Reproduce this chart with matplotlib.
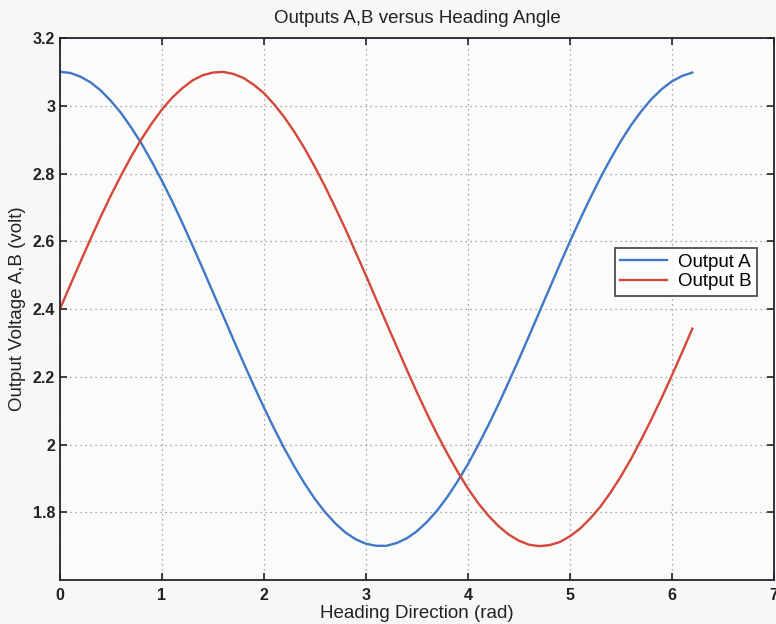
import matplotlib
matplotlib.use("Agg")
import matplotlib.pyplot as plt

plt.rcParams['font.family'] = ['Liberation Sans', 'DejaVu Sans']

# Heading direction samples (rad)
heading = [0.0, 0.1, 0.2, 0.3, 0.4, 0.5, 0.6, 0.7, 0.8, 0.9,
           1.0, 1.1, 1.2, 1.3, 1.4, 1.5, 1.6, 1.7, 1.8, 1.9,
           2.0, 2.1, 2.2, 2.3, 2.4, 2.5, 2.6, 2.7, 2.8, 2.9,
           3.0, 3.1, 3.2, 3.3, 3.4, 3.5, 3.6, 3.7, 3.8, 3.9,
           4.0, 4.1, 4.2, 4.3, 4.4, 4.5, 4.6, 4.7, 4.8, 4.9,
           5.0, 5.1, 5.2, 5.3, 5.4, 5.5, 5.6, 5.7, 5.8, 5.9,
           6.0, 6.1, 6.2]

# Output A voltage (volt)
output_a = [3.100, 3.097, 3.086, 3.069, 3.045, 3.014, 2.978, 2.935, 2.888, 2.835,
            2.778, 2.718, 2.654, 2.587, 2.519, 2.449, 2.380, 2.310, 2.241, 2.174,
            2.109, 2.047, 1.988, 1.934, 1.884, 1.839, 1.800, 1.767, 1.740, 1.720,
            1.707, 1.701, 1.701, 1.709, 1.723, 1.744, 1.772, 1.806, 1.846, 1.892,
            1.942, 1.998, 2.057, 2.119, 2.185, 2.252, 2.321, 2.391, 2.461, 2.531,
            2.599, 2.665, 2.728, 2.788, 2.844, 2.896, 2.943, 2.984, 3.020, 3.049,
            3.072, 3.088, 3.098]

# Output B voltage (volt)
output_b = [2.400, 2.470, 2.539, 2.607, 2.673, 2.736, 2.795, 2.851, 2.902, 2.948,
            2.989, 3.024, 3.052, 3.075, 3.090, 3.098, 3.100, 3.094, 3.082, 3.062,
            3.037, 3.004, 2.966, 2.922, 2.873, 2.819, 2.761, 2.699, 2.635, 2.567,
            2.499, 2.429, 2.359, 2.290, 2.221, 2.154, 2.090, 2.029, 1.972, 1.919,
            1.870, 1.827, 1.790, 1.759, 1.734, 1.716, 1.704, 1.700, 1.703, 1.712,
            1.729, 1.752, 1.782, 1.817, 1.859, 1.906, 1.958, 2.015, 2.075, 2.138,
            2.204, 2.272, 2.342]

x_ticks = [0, 1, 2, 3, 4, 5, 6, 7]
y_ticks = [1.8, 2.0, 2.2, 2.4, 2.6, 2.8, 3.0, 3.2]
y_tick_labels = ['1.8', '2', '2.2', '2.4', '2.6', '2.8', '3', '3.2']

fig = plt.figure(figsize=(7.76, 6.24), dpi=100, facecolor='#f7f7f5')
ax = fig.add_axes([0.0773, 0.0705, 0.920, 0.8686])
ax.set_facecolor('#fbfbfa')

ax.plot(heading, output_a, color='#3f78c8', lw=1.7, label='Output A')
ax.plot(heading, output_b, color='#d5473a', lw=1.7, label='Output B')

ax.set_xlim(0, 7)
ax.set_ylim(1.6, 3.2)
ax.set_xticks(x_ticks)
ax.set_yticks(y_ticks)
ax.set_yticklabels(y_tick_labels)

ax.grid(True, color='#8a8f99', linestyle=(0, (1, 3)), linewidth=0.9)
ax.tick_params(direction='in', top=True, right=True, length=5, width=1.2,
               labelsize=11.5, colors='#222222')
ax.tick_params(axis='x', pad=6)
for lab in ax.get_xticklabels() + ax.get_yticklabels():
    lab.set_fontweight('bold')
for sp in ax.spines.values():
    sp.set_color('#222233')
    sp.set_linewidth(1.3)

ax.set_title('Outputs A,B versus Heading Angle', fontsize=13.5, pad=11, color='#222222')
ax.set_xlabel('Heading Direction (rad)', fontsize=13.5, labelpad=1, color='#222222')
ax.set_ylabel('Output Voltage A,B (volt)', fontsize=13.5, labelpad=5, color='#222222')

leg = ax.legend(loc='upper left', bbox_to_anchor=(0.777, 0.6125), fontsize=13.5,
                frameon=True, fancybox=False, handlelength=2.5, borderpad=0.3,
                labelspacing=0.12, handletextpad=0.55, borderaxespad=0)
leg.get_frame().set_edgecolor('#222222')
leg.get_frame().set_linewidth(1.3)
leg.get_frame().set_facecolor('#ffffff')

fig.savefig('out.png', dpi=100, facecolor=fig.get_facecolor())
